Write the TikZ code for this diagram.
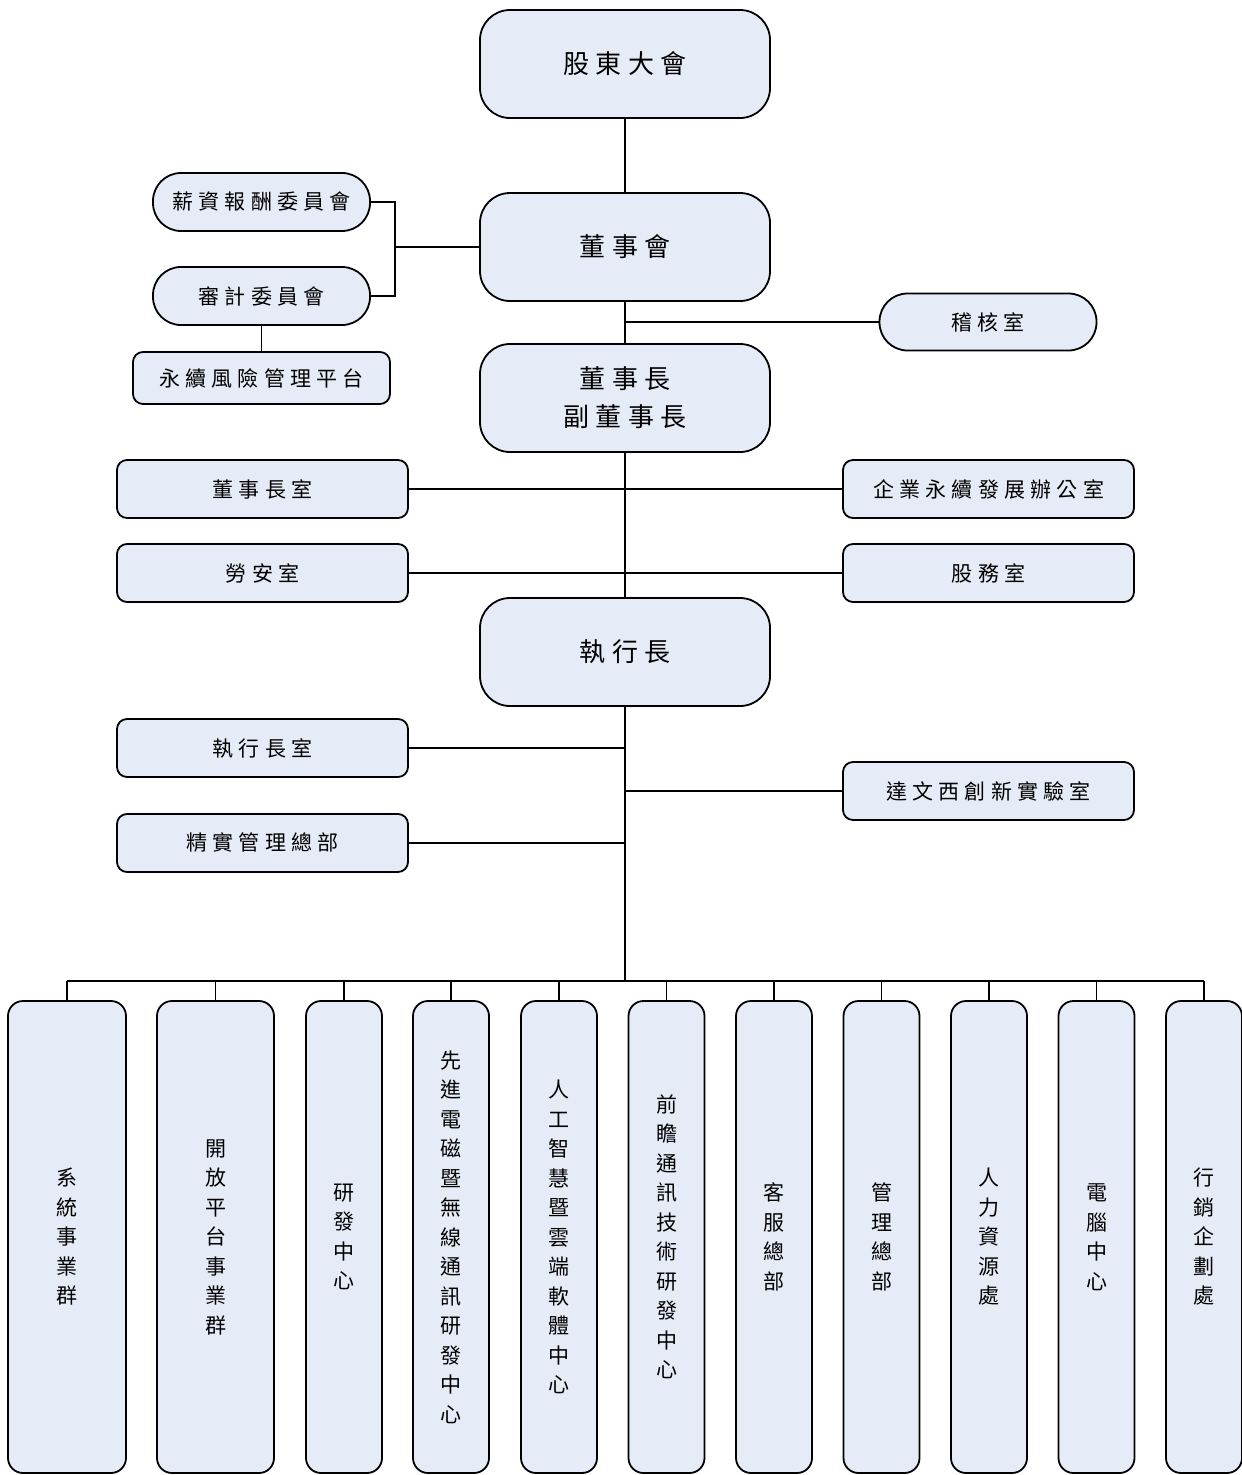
\documentclass[tikz,border=0pt]{standalone}
\usepackage{fontspec}
\newfontfamily\cjk[LetterSpace=25]{Noto Sans CJK TC}
\newfontfamily\cjkv{Noto Sans CJK TC}
\definecolor{boxfill}{RGB}{230,236,247}
\begin{document}
\begin{tikzpicture}[x=1pt,y=-1pt,
  every path/.style={line width=1.8pt},
  base/.style={draw=black,fill=boxfill,line width=1.8pt,inner sep=0pt,align=center},
  big/.style={base,minimum width=290,minimum height=108,rounded corners=30,
    font=\cjk\fontsize{26}{38}\selectfont},
  pill/.style={base,minimum width=217,minimum height=58,rounded corners=28,
    font=\cjk\fontsize{21}{26}\selectfont},
  side/.style={base,minimum width=291,minimum height=58,rounded corners=10,
    font=\cjk\fontsize{21}{26}\selectfont},
  dept/.style={base,minimum height=472,rounded corners=15,
    font=\cjkv\fontsize{21}{29.5}\selectfont},
  link/.style={line width=1.8pt}]
\useasboundingbox (0,0) rectangle (1242,1475);

% top level
\node[big] (gd) at (625,64) {股東大會};
\node[big] (bod) at (625,247) {董事會};
\node[pill] (pay) at (261.5,202) {薪資報酬委員會};
\node[pill] (aud) at (261.5,296) {審計委員會};
\node[side,minimum width=257,minimum height=52] (risk) at (261.5,378) {永續風險管理平台};
\node[pill,minimum height=57] (ia) at (988,322) {稽核室};
\node[big] (chair) at (625,398) {董事長\\副董事長};
\node[side] (cro) at (262.5,489) {董事長室};
\node[side] (esg) at (988.5,489) {企業永續發展辦公室};
\node[side] (lab) at (262.5,573) {勞安室};
\node[side] (stk) at (988.5,573) {股務室};
\node[big] (ceo) at (625,652) {執行長};
\node[side] (ceor) at (262.5,748) {執行長室};
\node[side] (dav) at (988.5,791) {達文西創新實驗室};
\node[side] (lean) at (262.5,843) {精實管理總部};

% bottom departments
\node[dept,minimum width=118] (d1) at (67,1237) {系\\統\\事\\業\\群};
\node[dept,minimum width=117] (d2) at (215.5,1237) {開\\放\\平\\台\\事\\業\\群};
\node[dept,minimum width=76] (d3) at (344,1237) {研\\發\\中\\心};
\node[dept,minimum width=76] (d4) at (451,1237) {先\\進\\電\\磁\\暨\\無\\線\\通\\訊\\研\\發\\中\\心};
\node[dept,minimum width=76] (d5) at (559,1237) {人\\工\\智\\慧\\暨\\雲\\端\\軟\\體\\中\\心};
\node[dept,minimum width=76] (d6) at (666.5,1237) {前\\瞻\\通\\訊\\技\\術\\研\\發\\中\\心};
\node[dept,minimum width=76] (d7) at (774,1237) {客\\服\\總\\部};
\node[dept,minimum width=76] (d8) at (881.5,1237) {管\\理\\總\\部};
\node[dept,minimum width=76] (d9) at (989,1237) {人\\力\\資\\源\\處};
\node[dept,minimum width=76] (d10) at (1096.5,1237) {電\\腦\\中\\心};
\node[dept,minimum width=76] (d11) at (1204,1237) {行\\銷\\企\\劃\\處};

% connectors
\coordinate (jb) at (395,247);
\coordinate (bus) at (625,981);
\draw[link] (gd) -- (bod);
\draw[link] (bod.west) -- (jb);
\draw[link] (pay.east) -- (pay.east -| jb) -- (aud.east -| jb) -- (aud.east);
\draw[link] (aud.south) -- (risk.north);
\draw[link] (bod.south) -- (chair.north);
\draw[link] (ia.west) -- (ia.west -| bod.south);
\draw[link] (chair.south) -- (ceo.north);
\draw[link] (cro.east) -- (esg.west);
\draw[link] (lab.east) -- (stk.west);
\draw[link] (ceo.south) -- (bus);
\draw[link] (ceor.east) -- (ceor.east -| ceo.south);
\draw[link] (dav.west) -- (dav.west -| ceo.south);
\draw[link] (lean.east) -- (lean.east -| ceo.south);
\draw[link] (d1.north |- bus) -- (d11.north |- bus);
\foreach \i in {1,...,11} {
  \draw[link] (d\i.north) -- (d\i.north |- bus);
}
\end{tikzpicture}
\end{document}
